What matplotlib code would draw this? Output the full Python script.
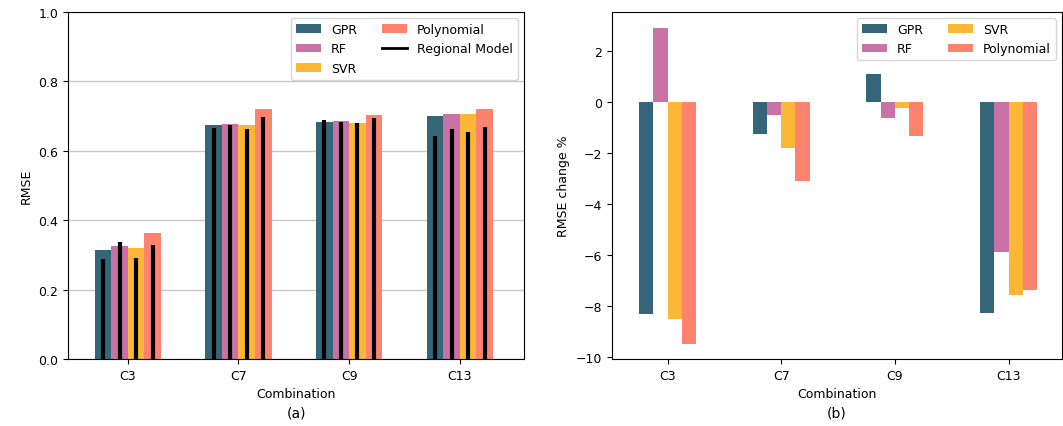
import matplotlib

matplotlib.use("Agg")

import matplotlib.pyplot as plt
import numpy as np
from matplotlib.lines import Line2D

combos = ["C3", "C7", "C9", "C13"]
models = ["GPR", "RF", "SVR", "Polynomial"]
colors = ["#346579", "#c972a6", "#fdb736", "#fe836e"]

# RMSE per model (bars) and for the regional model (black lines)
rmse_gpr = [0.314, 0.674, 0.683, 0.700]
rmse_rf = [0.326, 0.677, 0.686, 0.706]
rmse_svr = [0.320, 0.674, 0.680, 0.706]
rmse_poly = [0.363, 0.720, 0.703, 0.720]

regional_gpr = [0.288, 0.666, 0.689, 0.643]
regional_rf = [0.337, 0.674, 0.683, 0.663]
regional_svr = [0.291, 0.663, 0.680, 0.654]
regional_poly = [0.329, 0.697, 0.695, 0.669]

# RMSE change in percent
change_gpr = [-8.31, -1.28, 1.10, -8.27]
change_rf = [2.90, -0.51, -0.62, -5.87]
change_svr = [-8.50, -1.79, -0.26, -7.56]
change_poly = [-9.49, -3.10, -1.32, -7.36]

rmse = [rmse_gpr, rmse_rf, rmse_svr, rmse_poly]
regional = [regional_gpr, regional_rf, regional_svr, regional_poly]
change = [change_gpr, change_rf, change_svr, change_poly]

plt.rcParams["font.size"] = 9

fig = plt.figure(figsize=(10.63, 4.27), dpi=100)
ax1 = fig.add_axes([0.064, 0.157, 0.429, 0.813])
ax2 = fig.add_axes([0.5757, 0.157, 0.4233, 0.813])

x = np.arange(len(combos))

# (a) absolute RMSE
width = 0.15
handles = []
for i, (name, vals, reg, c) in enumerate(zip(models, rmse, regional, colors)):
    pos = x + (i - 1.5) * width
    handles.append(ax1.bar(pos, vals, width=width, color=c, label=name, zorder=2))
    ax1.vlines(pos, 0, reg, color="black", lw=3, zorder=3)
handles.append(Line2D([], [], color="black", lw=2, label="Regional Model"))
ax1.set_xticks(x)
ax1.set_xticklabels(combos)
ax1.set_xlim(-0.54, 3.58)
ax1.set_ylim(0, 1.0)
ax1.set_ylabel("RMSE")
ax1.set_xlabel("Combination")
ax1.grid(axis="y", color="#c8c8c8", lw=1, zorder=0)
ax1.set_axisbelow(True)
ax1.legend(handles=handles, ncol=2, loc="upper right")
ax1.text(0.5, -0.135, "(a)", transform=ax1.transAxes, ha="center", va="top", fontsize=10)

# (b) relative change
width = 0.125
for i, (name, vals, c) in enumerate(zip(models, change, colors)):
    ax2.bar(x + (i - 1.5) * width, vals, width=width, color=c, label=name)
ax2.set_xticks(x)
ax2.set_xticklabels(combos)
ax2.set_xlim(-0.49, 3.47)
ax2.set_ylim(-10.08, 3.53)
ax2.set_yticks([2, 0, -2, -4, -6, -8, -10])
ax2.set_ylabel("RMSE change %")
ax2.set_xlabel("Combination")
ax2.legend(ncol=2, loc="upper right")
ax2.text(0.5, -0.135, "(b)", transform=ax2.transAxes, ha="center", va="top", fontsize=10)

fig.savefig("out.png", dpi=100)
